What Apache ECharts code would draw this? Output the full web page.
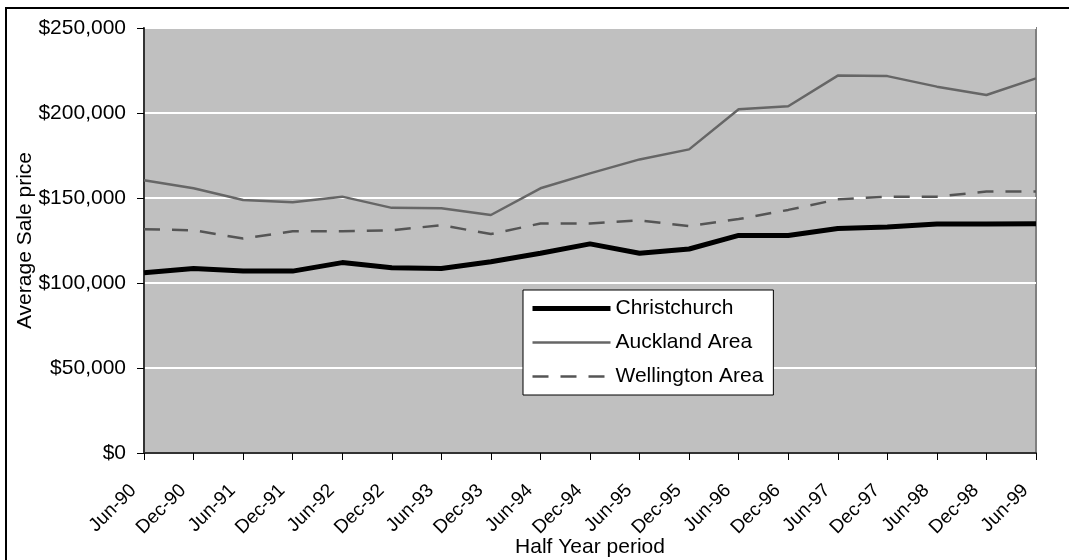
<!DOCTYPE html>
<html>
<head>
<meta charset="utf-8">
<script src="https://cdn.jsdelivr.net/npm/echarts@6/dist/echarts.min.js"></script>
<style>
  html, body { margin: 0; padding: 0; background: #fff; }
  #myChart { width: 1069px; height: 560px; }
</style>
</head>
<body>
<div id="myChart"></div>
<script>
// half year periods
var periods = ['Jun-90', 'Dec-90', 'Jun-91', 'Dec-91', 'Jun-92', 'Dec-92', 'Jun-93', 'Dec-93', 'Jun-94', 'Dec-94',
  'Jun-95', 'Dec-95', 'Jun-96', 'Dec-96', 'Jun-97', 'Dec-97', 'Jun-98', 'Dec-98', 'Jun-99']
var christchurch = [106000, 108500, 107000, 107000, 112000, 109000, 108500, 112500, 117500, 123000,
  117500, 120000, 128000, 128000, 132000, 133000, 134700, 134700, 134800]
var auckland = [160500, 155700, 148800, 147500, 150800, 144200, 144000, 140000, 155700, 164500,
  172700, 178600, 202200, 204000, 222000, 221700, 215500, 210600, 220400]
var wellington = [131600, 131000, 126200, 130400, 130400, 131000, 134000, 128800, 135000, 135000,
  136800, 133500, 137600, 143000, 149200, 150800, 150800, 153800, 153800]

var font = 'Liberation Sans, Arial, sans-serif'
var styles = {
  'Christchurch': { color: '#000', width: 5, type: 'solid' },
  'Auckland Area': { color: '#666', width: 2.5, type: 'solid' },
  'Wellington Area': { color: '#555', width: 2.5, type: [16, 12] }
}

function lineSeries(name, data) {
  var s = styles[name]
  return {
    name: name,
    type: 'line',
    data: data,
    symbol: 'none',
    lineStyle: { color: s.color, width: s.width, type: s.type },
    itemStyle: { color: s.color }
  }
}

function legendItem(name) {
  var s = styles[name]
  return {
    name: name,
    itemStyle: { opacity: 0 },
    lineStyle: { color: s.color, width: s.width, type: s.type }
  }
}

var myChart = echarts.init(document.getElementById('myChart'))
var option = {
  backgroundColor: '#fff',
  animation: false,
  textStyle: { fontFamily: font, color: '#000' },
  graphic: [{
    type: 'rect',
    shape: { x: 6, y: 8, width: 1100, height: 600 },
    style: { fill: 'none', stroke: '#000', lineWidth: 2 },
    silent: true
  }],
  grid: {
    left: 144,
    right: 33,
    top: 28,
    bottom: 107,
    outerBoundsMode: 'none',
    show: true,
    backgroundColor: '#c0c0c0',
    borderColor: '#808080',
    borderWidth: 2
  },
  legend: {
    orient: 'vertical',
    left: 523,
    top: 290,
    data: ['Christchurch', 'Auckland Area', 'Wellington Area'].map(legendItem),
    backgroundColor: '#fff',
    borderColor: '#000',
    borderWidth: 1,
    padding: [8, 10, 8, 7],
    itemWidth: 78,
    itemHeight: 14,
    itemGap: 13,
    textStyle: { fontFamily: font, fontSize: 21, color: '#000' }
  },
  xAxis: {
    type: 'category',
    data: periods,
    boundaryGap: false,
    name: 'Half Year period',
    nameLocation: 'middle',
    nameGap: 84,
    nameMoveOverlap: false,
    nameTextStyle: { fontFamily: font, fontSize: 21, color: '#000' },
    axisLine: { show: true, lineStyle: { color: '#333', width: 2 } },
    axisTick: { show: true, alignWithLabel: true, length: 7, lineStyle: { color: '#000', width: 1 } },
    axisLabel: { rotate: 45, margin: 24, padding: [0, 15, 0, 0], fontFamily: font, fontSize: 19, color: '#000', interval: 0 },
    splitLine: { show: false }
  },
  yAxis: {
    type: 'value',
    min: 0,
    max: 250000,
    interval: 50000,
    name: 'Average Sale price',
    nameLocation: 'middle',
    nameGap: 108,
    nameMoveOverlap: false,
    nameTextStyle: { fontFamily: font, fontSize: 21, color: '#000' },
    axisLine: { show: true, lineStyle: { color: '#333', width: 2 } },
    axisTick: { show: true, length: 7, lineStyle: { color: '#000', width: 1 } },
    axisLabel: {
      margin: 18,
      fontFamily: font,
      fontSize: 21,
      color: '#000',
      formatter: function (v) {
        return '$' + v.toLocaleString('en-US')
      }
    },
    splitLine: { show: true, lineStyle: { color: '#fff', width: 2 } }
  },
  series: [
    lineSeries('Christchurch', christchurch),
    lineSeries('Auckland Area', auckland),
    lineSeries('Wellington Area', wellington)
  ]
}
myChart.setOption(option)
</script>
</body>
</html>
